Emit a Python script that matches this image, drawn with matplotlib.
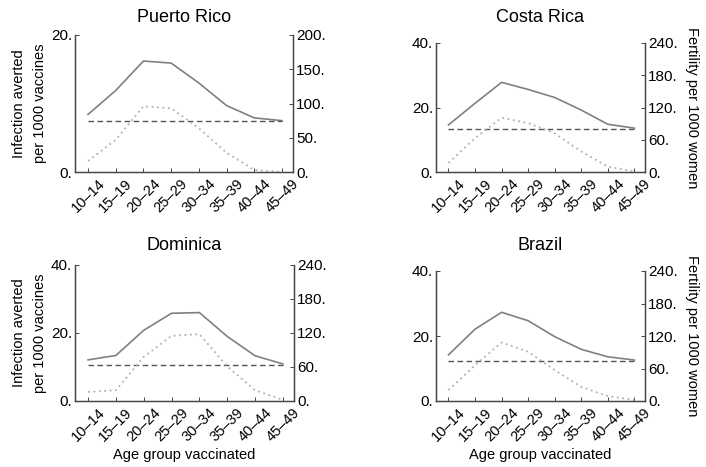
import matplotlib
matplotlib.use("Agg")
import matplotlib.pyplot as plt

plt.rcParams['font.family'] = ['Liberation Sans', 'DejaVu Sans']

ages = ['10–14', '15–19', '20–24', '25–29', '30–34', '35–39', '40–44', '45–49']
titles = ['Puerto Rico', 'Costa Rica', 'Dominica', 'Brazil']

# infections averted per 1000 vaccines (left axis)
averted = {
    'Puerto Rico': [8.4, 11.9, 16.2, 15.9, 13.0, 9.7, 7.9, 7.5],
    'Costa Rica': [14.6, 21.3, 27.8, 25.6, 23.1, 19.2, 14.8, 13.6],
    'Dominica': [12.1, 13.4, 20.8, 25.8, 26.0, 19.0, 13.3, 10.9],
    'Brazil': [14.2, 22.1, 27.3, 24.7, 19.8, 15.9, 13.6, 12.6],
}
# uniform (age independent) level, left axis
baseline = {'Puerto Rico': 7.5, 'Costa Rica': 13.4, 'Dominica': 10.7, 'Brazil': 12.4}
# fertility per 1000 women (right axis)
fertility = {
    'Puerto Rico': [16, 47, 96, 93, 64, 28, 3, 0],
    'Costa Rica': [17, 63, 101, 91, 72, 38, 10, 1],
    'Dominica': [16, 19, 78, 115, 118, 61, 19, 2],
    'Brazil': [20, 66, 108, 91, 57, 26, 9, 2],
}
left_ticks = {'Puerto Rico': [0, 20], 'Costa Rica': [0, 20, 40],
              'Dominica': [0, 20, 40], 'Brazil': [0, 20, 40]}
right_ticks = {'Puerto Rico': [0, 50, 100, 150, 200], 'Costa Rica': [0, 60, 120, 180, 240],
               'Dominica': [0, 60, 120, 180, 240], 'Brazil': [0, 60, 120, 180, 240]}

W, H = 706, 467
boxes = {  # left, right, top, bottom in pixels
    'Puerto Rico': (75, 293, 35, 172),
    'Costa Rica': (436, 645, 43, 172),
    'Dominica': (75, 294, 265, 401),
    'Brazil': (436, 645, 271, 401),
}
title_y = {'Puerto Rico': 17, 'Costa Rica': 17, 'Dominica': 246, 'Brazil': 246}

fig = plt.figure(figsize=(W / 100, H / 100), dpi=100)
axcol = '#444444'
x = list(range(len(ages)))

for name in titles:
    l, r, t, b = boxes[name]
    ax = fig.add_axes([l / W, 1 - b / H, (r - l) / W, (b - t) / H])
    ax2 = ax.twinx()
    ax.plot(x, averted[name], color='#808080', lw=1.2)
    ax.plot(x, [baseline[name]] * len(x), color='#555555', lw=1.0, ls=(0, (4, 2.5)))
    ax2.plot(x, fertility[name], color='#b0b0b0', lw=1.3, ls=(0, (1, 2)))
    ax.set_xlim(-0.47, 7.4)
    ax.set_ylim(0, left_ticks[name][-1])
    ax2.set_ylim(0, right_ticks[name][-1])
    ax.set_yticks(left_ticks[name])
    ax.set_yticklabels([f'{v}.' for v in left_ticks[name]])
    ax2.set_yticks(right_ticks[name])
    ax2.set_yticklabels([f'{v}.' for v in right_ticks[name]])
    ax.set_xticks(x)
    ax.set_xticklabels(ages, rotation=45, ha='center', va='top', fontsize=10.5)
    for a in (ax, ax2):
        a.spines['top'].set_visible(False)
        for s in ('left', 'right', 'bottom'):
            a.spines[s].set_color(axcol)
            a.spines[s].set_linewidth(0.9)
        a.tick_params(direction='in', length=3, width=0.7, color=axcol,
                      labelsize=11, pad=2.2)
    ax.tick_params(axis='x', pad=3, labelsize=10.5)
    fig.text((l + r) / 2 / W, 1 - title_y[name] / H, name, fontsize=13,
             ha='center', va='center')
    if name in ('Puerto Rico', 'Dominica'):
        ax.set_ylabel('Infection averted\nper 1000 vaccines', fontsize=10.5,
                      labelpad=3, linespacing=1.6)
    else:
        ax2.set_ylabel('Fertility per 1000 women', fontsize=10.5, rotation=-90,
                       va='bottom', labelpad=5)
    if name in ('Dominica', 'Brazil'):
        ax.set_xlabel('Age group vaccinated', fontsize=10.5, labelpad=3)

fig.savefig('out.png', dpi=100)
